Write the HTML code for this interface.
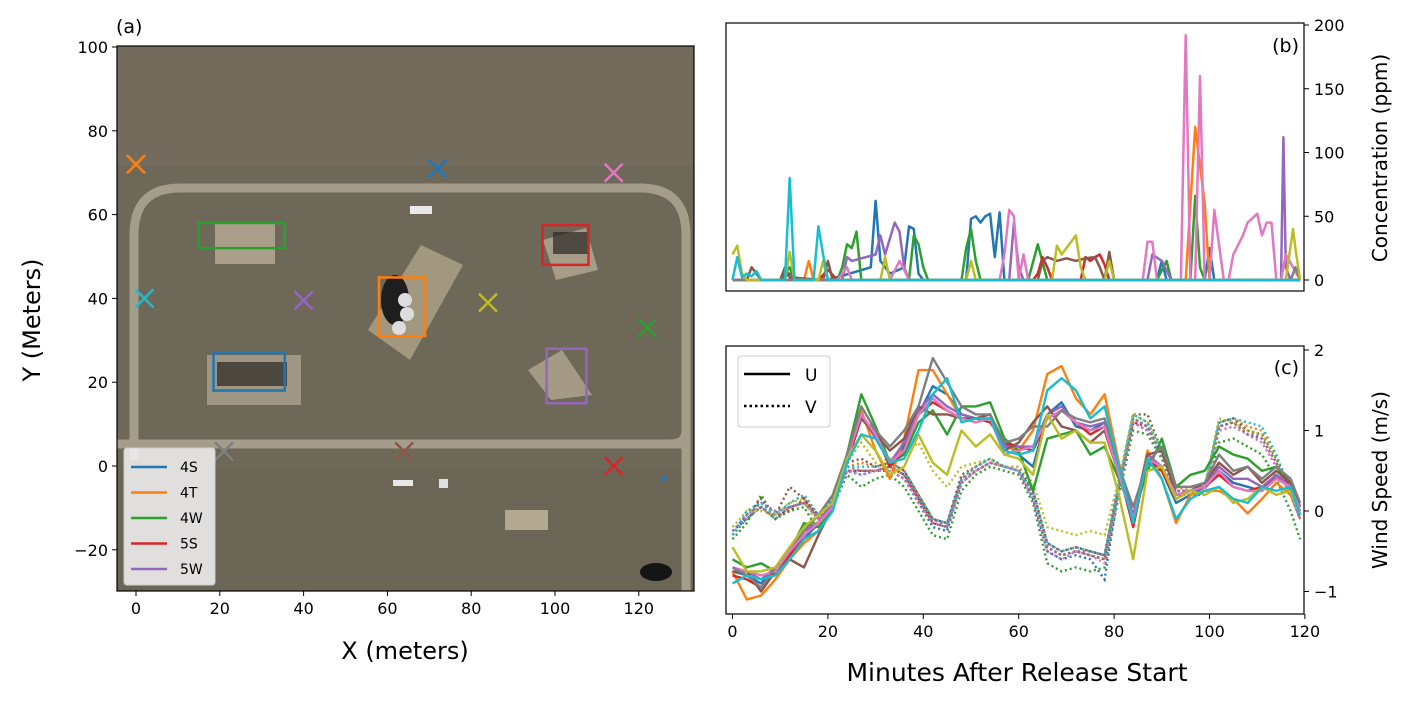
<!DOCTYPE html>
<html><head><meta charset="utf-8"><style>
body{margin:0;background:#fff;}
svg{display:block;font-family:"DejaVu Sans","Liberation Sans",sans-serif;}
</style></head><body>
<svg id="fig" width="1412" height="703" viewBox="0 0 1412 703" xmlns="http://www.w3.org/2000/svg">
<g id="pa"></g>
<g id="pb"></g>
<g id="pc"></g>
</svg>
<script>
// ---------- data ----------
const colors=['#1f77b4','#ff7f0e','#2ca02c','#d62728','#9467bd','#8c564b','#e377c2','#7f7f7f','#bcbd22','#17becf'];
const legendLabels=['4S','4T','4W','5S','5W'];
const markerX=[72,0,122,114,40,64,114,21,84,2];
const markerY=[71,72,33,0,39.5,3.5,70,3.5,39,40];
const boxX0=[18.5,58,15,97,98];
const boxX1=[35.5,69,35.5,108,107.5];
const boxY0=[18,31,52,48,15];
const boxY1=[27,45,58,57.5,28];
const mapXTicks=[0,20,40,60,80,100,120];
const mapYTicks=[-20,0,20,40,60,80,100];
const minuteTicks=[0,20,40,60,80,100,120];
const concTicks=[0,50,100,150,200];
const windTicks=[-1,0,1,2];

// concentration (ppm) sparse series: time (min), value
const concT=[
 [0,10,12,14,20,29,30,31,33,36,37,38,39,40,41,49,50,51,52,53,54,55,56,57,60,89,90,91,99,100,101,118,119],
 [0,15,16,17,94,95,97,99,100,101,119],
 [0,10,12,13,22,23,24,25,26,27,37,38,39,40,41,48,49,50,51,52,62,64,66,89,91,92,96,97,98,99,100,119],
 [0,18,20,22,63,64,65,66,67,73,74,75,76,77,78,79,80,119],
 [0,23,24,25,30,31,32,34,35,36,37,38,42,58,59,60,61,87,88,90,92,114,115,115.5,116,117,119],
 [0,3,4,6,10,11,12,19,20,21,64,65,66,68,70,72,74,76,77,78,79,80,119],
 [0,22,24,25,33,35,36,37,56,57,58,59,60,61,62,63,86,87,88,89,90,93,94,95,96,97,98,99,100,101,103,104,105,107,108,110,111,112,113,114,115,116,119],
 [0,117,118,119],
 [0,1,2,3,11,12,13,18,19,20,31,32,33,49,50,51,67,68,69,70,71,72,73,74,78,79,80,116,117.5,118,119],
 [0,1,2,3,4,5,6,7,11,12,13,17,18,19,20,119]
];
const concV=[
 [0,0,5,0,0,10,62,15,5,10,42,40,5,0,0,0,48,50,45,50,52,18,53,0,0,0,15,0,0,25,0,0,0],
 [0,0,15,0,0,0,120,60,0,0,0],
 [0,0,10,0,0,10,28,25,38,0,0,35,28,10,0,0,25,40,15,0,0,28,0,0,15,0,0,66,10,0,0,0],
 [0,0,8,0,0,5,18,10,0,0,18,15,18,20,12,0,0,0],
 [0,0,18,15,20,35,20,45,38,10,0,0,0,0,45,10,0,0,20,15,0,0,0,112,10,0,0],
 [0,0,10,0,0,10,2,0,15,0,0,15,18,15,17,15,17,18,10,0,22,0,0],
 [0,0,10,0,0,15,8,0,0,20,55,50,0,20,0,0,0,30,30,0,0,0,0,192,0,0,160,0,0,55,0,0,20,35,45,52,35,45,45,0,0,20,0],
 [0,0,10,0],
 [20,27,5,0,0,22,0,0,15,0,0,18,0,0,15,0,0,27,20,25,30,35,10,0,0,15,0,0,40,25,0],
 [0,18,2,5,3,7,0,0,0,80,0,0,42,20,0,0]
];

// wind components (m/s) on common time grid
const windT=[0,3,6,9,12,15,18,21,24,27,30,33,36,39,42,45,48,51,54,57,60,63,66,69,72,75,78,81,84,87,90,93,96,99,102,105,108,111,114,117,119];
const windU=[
 [-0.75,-0.8,-0.9,-0.7,-0.5,-0.35,-0.15,0.05,0.65,1.15,1.0,0.55,0.8,1.2,1.55,1.45,1.2,1.15,1.15,0.85,0.7,0.55,1.2,1.35,1.05,1.0,1.1,0.45,-0.05,0.6,0.5,0.1,0.2,0.3,0.5,0.35,0.3,0.25,0.45,0.3,0.0],
 [-0.75,-1.1,-1.05,-0.85,-0.6,-0.4,-0.25,0.1,0.7,1.25,0.75,0.4,0.9,1.75,1.75,1.45,1.15,1.1,1.15,0.8,0.75,1.0,1.7,1.8,1.4,1.2,1.45,0.6,-0.1,0.75,0.4,-0.15,0.2,0.25,0.25,0.15,-0.03,0.15,0.35,0.2,0.0],
 [-0.6,-0.7,-0.65,-0.75,-0.5,-0.15,-0.2,0.0,0.7,1.45,1.05,0.6,0.7,1.1,1.25,0.95,1.3,1.3,1.35,0.9,0.75,0.25,0.9,0.95,1.0,0.7,0.8,0.4,-0.05,0.5,0.9,0.3,0.45,0.5,0.8,0.7,0.65,0.5,0.55,0.35,0.1],
 [-0.8,-0.85,-0.95,-0.75,-0.55,-0.3,-0.15,0.1,0.6,1.15,0.95,0.55,0.75,1.2,1.35,1.25,1.15,1.15,1.1,0.85,0.8,0.75,1.15,1.25,1.1,0.95,1.05,0.5,-0.2,0.65,0.5,0.15,0.25,0.3,0.45,0.3,0.25,0.3,0.4,0.35,0.05],
 [-0.7,-0.75,-0.85,-0.7,-0.5,-0.25,-0.15,0.1,0.7,1.2,0.9,0.6,0.85,1.25,1.45,1.3,1.2,1.15,1.2,0.8,0.8,0.8,1.2,1.3,1.1,1.05,1.1,0.5,-0.05,0.7,0.55,0.2,0.25,0.3,0.55,0.4,0.4,0.3,0.45,0.3,0.05],
 [-0.75,-0.75,-1.0,-0.75,-0.6,-0.7,-0.3,0.05,0.7,1.15,0.95,0.75,0.9,1.3,1.2,1.2,1.15,1.15,1.2,0.75,0.85,1.1,1.3,1.05,1.0,0.85,1.0,0.45,-0.1,0.7,0.75,0.2,0.25,0.35,0.6,0.45,0.55,0.35,0.5,0.35,0.1],
 [-0.7,-0.75,-0.8,-0.75,-0.5,-0.3,-0.15,0.05,0.65,1.2,0.95,0.6,0.75,1.2,1.4,1.25,1.15,1.1,1.15,0.7,0.75,0.8,1.15,1.25,1.1,1.0,1.05,0.45,-0.1,0.65,0.55,0.2,0.25,0.3,0.5,0.3,0.25,0.25,0.4,0.3,0.0],
 [-0.7,-0.8,-0.95,-0.7,-0.45,-0.25,-0.05,0.2,0.7,1.3,1.0,0.8,1.0,1.3,1.9,1.6,1.3,1.2,1.2,0.85,0.9,1.05,1.05,1.25,1.15,1.1,1.15,0.55,0.05,0.6,0.8,0.3,0.3,0.35,0.7,0.5,0.55,0.4,0.55,0.4,0.1],
 [-0.45,-0.75,-0.75,-0.7,-0.45,-0.2,-0.05,0.1,0.65,0.95,0.75,0.45,0.55,0.95,0.6,0.45,1.0,0.8,0.95,0.7,0.65,0.45,1.2,0.9,1.0,0.85,0.85,0.2,-0.6,0.5,0.55,0.15,0.25,0.2,0.3,0.1,0.15,0.3,0.2,0.25,-0.05],
 [-0.9,-0.8,-0.85,-0.8,-0.6,-0.35,-0.25,0.0,0.6,0.95,0.9,0.6,0.65,1.0,1.45,1.65,1.1,1.15,1.15,0.75,0.7,0.75,1.5,1.65,1.5,1.15,1.3,0.55,-0.15,0.65,0.4,-0.1,0.15,0.25,0.3,0.15,0.1,0.3,0.25,0.3,-0.05]
];
const windV=[
 [-0.25,-0.1,0.05,-0.1,0.05,0.1,-0.1,0.1,0.5,0.45,0.5,0.5,0.4,0.1,-0.2,-0.25,0.35,0.5,0.6,0.55,0.5,0.15,-0.5,-0.6,-0.55,-0.6,-0.85,0.3,1.1,1.0,0.7,0.2,0.25,0.25,1.0,1.05,0.95,0.85,0.55,0.2,-0.1],
 [-0.3,0.0,0.1,-0.05,0.1,0.2,-0.05,0.15,0.55,0.6,0.55,0.6,0.5,0.2,-0.1,-0.15,0.4,0.55,0.65,0.55,0.5,0.25,-0.4,-0.5,-0.45,-0.5,-0.55,0.35,1.2,1.1,0.7,0.3,0.25,0.3,1.1,1.15,1.05,1.0,0.65,0.25,-0.1],
 [-0.35,-0.15,0.2,-0.1,0.0,0.05,-0.25,0.05,0.45,0.3,0.4,0.45,0.3,0.0,-0.3,-0.35,0.25,0.45,0.55,0.5,0.45,0.1,-0.65,-0.75,-0.7,-0.75,-0.7,0.2,1.0,0.95,0.65,0.2,0.2,0.2,0.85,0.9,0.8,0.7,0.4,0.0,-0.35],
 [-0.3,-0.05,0.05,-0.05,0.0,0.15,-0.1,0.1,0.5,0.5,0.5,0.55,0.45,0.15,-0.15,-0.2,0.35,0.5,0.6,0.55,0.5,0.2,-0.45,-0.55,-0.5,-0.55,-0.6,0.3,1.1,1.05,0.7,0.25,0.25,0.25,1.05,1.1,0.95,0.9,0.6,0.2,-0.1],
 [-0.25,-0.05,0.1,0.0,0.05,0.1,-0.05,0.1,0.5,0.5,0.5,0.55,0.45,0.15,-0.1,-0.2,0.35,0.5,0.6,0.55,0.5,0.2,-0.45,-0.55,-0.5,-0.5,-0.55,0.3,1.15,1.05,0.7,0.25,0.25,0.25,1.05,1.1,1.0,0.9,0.6,0.2,-0.05],
 [-0.3,-0.05,0.15,-0.05,0.3,0.15,-0.05,0.15,0.6,0.65,0.55,0.6,0.5,0.2,-0.1,-0.15,0.45,0.55,0.65,0.55,0.55,0.25,-0.4,-0.5,-0.45,-0.5,-0.55,0.35,1.2,1.2,0.75,0.3,0.3,0.3,1.1,1.15,1.0,0.95,0.65,0.25,-0.1],
 [-0.3,-0.05,0.05,-0.05,0.05,0.1,-0.1,0.1,0.5,0.45,0.5,0.5,0.4,0.1,-0.15,-0.2,0.35,0.5,0.6,0.55,0.5,0.15,-0.5,-0.6,-0.5,-0.55,-0.65,0.3,1.1,1.0,0.7,0.25,0.25,0.25,1.0,1.05,0.95,0.85,0.55,0.2,-0.1],
 [-0.3,-0.1,0.05,-0.1,0.05,0.1,-0.1,0.1,0.55,0.5,0.5,0.55,0.45,0.15,-0.15,-0.2,0.4,0.5,0.6,0.55,0.5,0.2,-0.45,-0.55,-0.5,-0.55,-0.6,0.3,1.15,1.05,0.7,0.25,0.25,0.25,1.05,1.1,0.95,0.9,0.6,0.2,-0.1],
 [-0.2,0.0,0.0,-0.05,0.1,0.15,-0.2,0.15,0.6,0.85,0.6,0.65,0.7,0.85,0.5,0.3,0.55,0.6,0.65,0.55,0.55,0.35,-0.2,-0.25,-0.3,-0.25,-0.3,0.4,1.2,1.1,0.75,0.3,0.3,0.3,1.15,1.1,1.0,0.95,0.65,0.3,0.0],
 [-0.3,0.0,0.1,-0.05,0.1,0.2,-0.05,0.15,0.55,0.55,0.55,0.6,0.5,0.2,-0.1,-0.15,0.4,0.55,0.65,0.55,0.5,0.25,-0.4,-0.5,-0.45,-0.5,-0.55,0.35,1.2,1.1,0.75,0.3,0.3,0.3,1.1,1.15,1.1,1.05,0.7,0.25,-0.05]
];
</script>
<script>
const NS='http://www.w3.org/2000/svg';
function mk(parent,tag,attrs,text){const e=document.createElementNS(NS,tag);for(const k in attrs)e.setAttribute(k,attrs[k]);if(text!==undefined)e.textContent=text;parent.appendChild(e);return e;}

// ===== Panel (a) =====
const pa=document.getElementById('pa');
const ax={l:117,r:694,t:46,b:591};
const mx=v=>136+v*4.19;
const my=v=>466-v*4.19;
let e;
e=mk(pa,'rect',{x:ax.l,y:ax.t,width:ax.r-ax.l,height:ax.b-ax.t,fill:'#6e6858'});


mk(pa,'rect',{x:ax.l,y:ax.t,width:ax.r-ax.l,height:120,fill:'#77705f',opacity:0.6});
mk(pa,'rect',{x:ax.l,y:470,width:ax.r-ax.l,height:121,fill:'#6a6455',opacity:0.7});
e=mk(pa,'path',{d:'M134 460 L134 235 Q134 188 180 188 L640 188 Q686 188 686 235 L686 591 M117 444 L686 444 M686 430 Q686 444 670 444',fill:'none',stroke:'#a59d8c','stroke-width':9});


mk(pa,'rect',{x:215,y:222,width:60,height:42,fill:'#a99f8a'});
mk(pa,'rect',{x:207,y:355,width:94,height:50,fill:'#9e9583'});
mk(pa,'polygon',{points:'368,330 421,245 463,265 410,360',fill:'#a2987f'});
mk(pa,'polygon',{points:'543,240 586,228 598,270 556,280',fill:'#a79c88'});
mk(pa,'polygon',{points:'528,370 562,350 592,395 551,400',fill:'#a49a86'});
mk(pa,'rect',{x:505,y:510,width:43,height:20,fill:'#b3a891'});
mk(pa,'ellipse',{cx:395,cy:300,rx:14,ry:25,fill:'#1e1e1e'});
mk(pa,'ellipse',{cx:405,cy:300,rx:7,ry:7,fill:'#ddd'});mk(pa,'ellipse',{cx:407,cy:314,rx:7,ry:7,fill:'#ddd'});mk(pa,'ellipse',{cx:399,cy:328,rx:7,ry:7,fill:'#ddd'});
mk(pa,'rect',{x:217,y:362,width:70,height:24,fill:'#2a2824',opacity:0.7});
mk(pa,'rect',{x:553,y:232,width:35,height:22,fill:'#2a2824',opacity:0.7});
mk(pa,'ellipse',{cx:656,cy:572,rx:16,ry:9,fill:'#151515'});
mk(pa,'rect',{x:410,y:206,width:22,height:8,fill:'#e8e8e8'});
mk(pa,'rect',{x:393,y:480,width:20,height:6,fill:'#e8e8e8'});
mk(pa,'rect',{x:439,y:479,width:9,height:9,fill:'#e0e0e0'});
for(let i=0;i<5;i++){
  e=mk(pa,'rect',{x:mx(boxX0[i]),y:my(boxY1[i]),width:mx(boxX1[i])-mx(boxX0[i]),height:my(boxY0[i])-my(boxY1[i]),fill:'none',stroke:colors[i],'stroke-width':2.5});
  
  
}
for(let i=0;i<markerX.length;i++){
  const cx=mx(markerX[i]),cy=my(markerY[i]),s=9;
  e=mk(pa,'path',{d:`M${cx-s} ${cy-s}L${cx+s} ${cy+s}M${cx-s} ${cy+s}L${cx+s} ${cy-s}`,stroke:colors[i],'stroke-width':2.5,fill:'none'});
  
  
}
mk(pa,'circle',{cx:mx(126),cy:my(-3),r:2.5,fill:'#1f77b4'});
mk(pa,'rect',{x:ax.l,y:ax.t,width:ax.r-ax.l,height:ax.b-ax.t,fill:'none',stroke:'#000','stroke-width':1.2});
mapXTicks.forEach(v=>{const x=mx(v);mk(pa,'line',{x1:x,x2:x,y1:ax.b,y2:ax.b+5,stroke:'#000'});
 e=mk(pa,'text',{x:x,y:ax.b+23,'text-anchor':'middle','font-size':16},v<0?'−'+(-v):v);
 });
mapYTicks.forEach(v=>{const y=my(v);mk(pa,'line',{x1:ax.l-5,x2:ax.l,y1:y,y2:y,stroke:'#000'});
 e=mk(pa,'text',{x:ax.l-9,y:y+6,'text-anchor':'end','font-size':16},v<0?'−'+(-v):v);
 });
e=mk(pa,'text',{x:405,y:659,'text-anchor':'middle','font-size':24},'X (meters)');

e=mk(pa,'text',{x:0,y:0,'text-anchor':'middle','font-size':24,transform:'translate(40,320) rotate(-90)'},'Y (Meters)');

e=mk(pa,'text',{x:116,y:33,'font-size':19},'(a)');

const lg=mk(pa,'g',{});


mk(lg,'rect',{x:124,y:448,width:91,height:137,rx:3,fill:'#f4f4f4','fill-opacity':0.85,stroke:'#ccc'});
legendLabels.forEach((lab,i)=>{const y=467+i*25.5;
 mk(lg,'line',{x1:131,x2:167,y1:y,y2:y,stroke:colors[i],'stroke-width':2.5});
 e=mk(lg,'text',{x:180,y:y+5,'font-size':14},lab);
 });

// ===== shared time axis =====
const tx=t=>732.5+t*4.77;

// ===== Panel (b) =====
const pb=document.getElementById('pb');
const bx={l:726,r:1304,t:23,b:291};
const by=v=>280-v*1.275;
mk(pb,'rect',{x:bx.l,y:bx.t,width:bx.r-bx.l,height:bx.b-bx.t,fill:'#fff'});
for(let i=0;i<10;i++){
  const pts=concT[i].map((t,j)=>tx(t).toFixed(1)+','+by(concV[i][j]).toFixed(1)).join(' ');
  e=mk(pb,'polyline',{points:pts,fill:'none',stroke:colors[i],'stroke-width':2.5,'stroke-linejoin':'round'});
  
  
}
mk(pb,'rect',{x:bx.l,y:bx.t,width:bx.r-bx.l,height:bx.b-bx.t,fill:'none',stroke:'#000','stroke-width':1.2});
concTicks.forEach(v=>{const y=by(v);mk(pb,'line',{x1:bx.r,x2:bx.r+5,y1:y,y2:y,stroke:'#000'});
 e=mk(pb,'text',{x:bx.r+10,y:y+6,'font-size':16},v);
 });
e=mk(pb,'text',{x:0,y:0,'text-anchor':'middle','font-size':20,transform:'translate(1387,158) rotate(-90)'},'Concentration (ppm)');

e=mk(pb,'text',{x:1299,y:52,'text-anchor':'end','font-size':19},'(b)');


// ===== Panel (c) =====
const pc=document.getElementById('pc');
const cx0={l:726,r:1304,t:346,b:614};
const cy=v=>511-v*80.5;
mk(pc,'rect',{x:cx0.l,y:cx0.t,width:cx0.r-cx0.l,height:cx0.b-cx0.t,fill:'#fff'});
for(let i=0;i<10;i++){
  const pts=windT.map((t,j)=>tx(t).toFixed(1)+','+cy(windV[i][j]).toFixed(1)).join(' ');
  e=mk(pc,'polyline',{points:pts,fill:'none',stroke:colors[i],'stroke-width':2.4,'stroke-dasharray':'2,3'});
  
  
}
for(let i=0;i<10;i++){
  const pts=windT.map((t,j)=>tx(t).toFixed(1)+','+cy(windU[i][j]).toFixed(1)).join(' ');
  e=mk(pc,'polyline',{points:pts,fill:'none',stroke:colors[i],'stroke-width':2.4,'stroke-linejoin':'round'});
  
  
}
mk(pc,'rect',{x:cx0.l,y:cx0.t,width:cx0.r-cx0.l,height:cx0.b-cx0.t,fill:'none',stroke:'#000','stroke-width':1.2});
windTicks.forEach(v=>{const y=cy(v);mk(pc,'line',{x1:cx0.r,x2:cx0.r+5,y1:y,y2:y,stroke:'#000'});
 e=mk(pc,'text',{x:cx0.r+10,y:y+6,'font-size':16},v<0?'−'+(-v):v);
 });
minuteTicks.forEach(v=>{const x=tx(v);mk(pc,'line',{x1:x,x2:x,y1:cx0.b,y2:cx0.b+5,stroke:'#000'});
 e=mk(pc,'text',{x:x,y:cx0.b+23,'text-anchor':'middle','font-size':16},v);
 });
e=mk(pc,'text',{x:0,y:0,'text-anchor':'middle','font-size':20,transform:'translate(1387,480) rotate(-90)'},'Wind Speed (m/s)');

e=mk(pc,'text',{x:1017,y:681,'text-anchor':'middle','font-size':25},'Minutes After Release Start');

e=mk(pc,'text',{x:1299,y:374,'text-anchor':'end','font-size':19},'(c)');

const wl=mk(pc,'g',{});


mk(wl,'rect',{x:738,y:356,width:92,height:71,rx:3,fill:'#fff','fill-opacity':0.85,stroke:'#ccc'});
mk(wl,'line',{x1:744,x2:790,y1:374,y2:374,stroke:'#000','stroke-width':2.5});
mk(wl,'line',{x1:744,x2:790,y1:406,y2:406,stroke:'#000','stroke-width':2.5,'stroke-dasharray':'2.5,3'});
e=mk(wl,'text',{x:805,y:381,'font-size':17},'U');

e=mk(wl,'text',{x:805,y:413,'font-size':17},'V');

</script>
</body></html>
